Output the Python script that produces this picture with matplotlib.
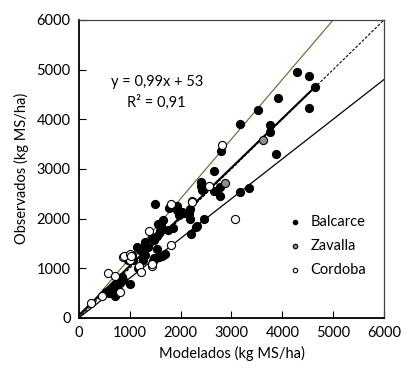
import numpy as np
import matplotlib
matplotlib.use("Agg")
import matplotlib.pyplot as plt

plt.rcParams['font.family'] = ['Lato', 'DejaVu Sans']

# Balcarce (black)
bal_x = [4290, 4520, 4640, 3920, 4520, 3760, 3760, 3880, 3520, 3170, 2800, 2650,
         2400, 2400, 2430, 2770, 2650, 2770, 3170, 3350, 2180, 2460, 2300, 1490,
         1770, 1920, 1930, 1960, 2020, 2070, 2170, 2180, 1660, 1610, 1550, 1620,
         1590, 1540, 1480, 1860, 1760, 1430, 1300, 1360, 1270, 1210, 1150, 1300,
         1530, 1510, 1640, 1450, 2320, 2200, 1040, 1270, 1170, 970, 1060, 1480,
         1570, 1690, 770, 710, 680, 770, 710, 1000, 600, 530, 870, 840, 740, 810, 550]
bal_y = [4960, 4860, 4650, 4420, 4230, 3890, 3750, 3300, 4190, 3900, 3350, 2950,
         2730, 2650, 2570, 2640, 2550, 2460, 2530, 2620, 2200, 1980, 1830, 2290,
         2210, 2260, 2170, 2080, 2130, 2110, 2090, 1990, 1960, 1880, 1880, 1810,
         1740, 1640, 1560, 1810, 1760, 1600, 1530, 1430, 1410, 1360, 1430, 1270,
         1390, 1200, 1240, 1150, 1840, 1680, 1270, 1170, 1000, 1170, 1160, 1200,
         1220, 1290, 720, 670, 600, 570, 430, 680, 500, 510, 770, 820, 670, 710, 510]

# Zavalla (grey)
zav_x = [3610, 2870]
zav_y = [3590, 2720]

# Cordoba (open)
cor_x = [2820, 2560, 2220, 3060, 1820, 2230, 1380, 1820, 870, 1000, 1180, 1440,
         580, 890, 1000, 810, 460, 240, 710, 1230, 1440, 1020]
cor_y = [3480, 2650, 2350, 1990, 2290, 2330, 1740, 1460, 1220, 1170, 1050, 1050,
         910, 1250, 1290, 510, 430, 300, 850, 930, 1080, 1240]

slope, intercept = 0.99, 53
ticks = [0, 1000, 2000, 3000, 4000, 5000, 6000]

fig = plt.figure(figsize=(4.13, 3.82), dpi=100)
ax = fig.add_axes([0.191, 0.168, 0.739, 0.780])

# reference lines
ax.plot([0, 6000], [0, 6000], color='black', lw=0.8, ls=(0, (2.5, 1.5)), zorder=1)
ax.plot([0, 5000], [0, 6000], color='#4a7226', lw=0.8, zorder=1)
ax.plot([0, 6000], [0, 4800], color='black', lw=0.9, zorder=1)
xr = np.array([0, 4650])
ax.plot(xr, slope * xr + intercept, color='black', lw=1.5, zorder=1)

ms = 34
ax.scatter(bal_x, bal_y, s=ms, color='black', edgecolor='black', lw=0.8, zorder=3, label='Balcarce')
ax.scatter(zav_x, zav_y, s=ms, color='#8c8c8c', edgecolor='black', lw=0.8, zorder=3, label='Zavalla')
ax.scatter(cor_x, cor_y, s=ms, color='white', edgecolor='black', lw=0.8, zorder=3, label='Cordoba')

ax.text(1530, 4740, 'y = 0,99x + 53', ha='center', va='center', fontsize=10.5)
ax.text(1530, 4340, 'R² = 0,91', ha='center', va='center', fontsize=10.5)

leg = ax.legend(loc='upper left', bbox_to_anchor=(0.64, 0.365), frameon=False,
                fontsize=10.5, markerscale=0.55, handletextpad=0.1, labelspacing=0.7,
                borderaxespad=0)

ax.set_xlim(0, 6000)
ax.set_ylim(0, 6000)
ax.set_xticks(ticks)
ax.set_yticks(ticks)
ax.tick_params(direction='in', length=5, labelsize=10.5, pad=6, colors='black')
for side in ['left', 'bottom']:
    ax.spines[side].set_linewidth(1.3)
for side in ['top', 'right']:
    ax.spines[side].set_linewidth(0.9)
    ax.spines[side].set_color('#444444')

ax.set_xlabel('Modelados (kg MS/ha)', fontsize=10.5, labelpad=4)
ax.set_ylabel('Observados (kg MS/ha)', fontsize=10.5, labelpad=5)

fig.savefig('out.png', dpi=100)
